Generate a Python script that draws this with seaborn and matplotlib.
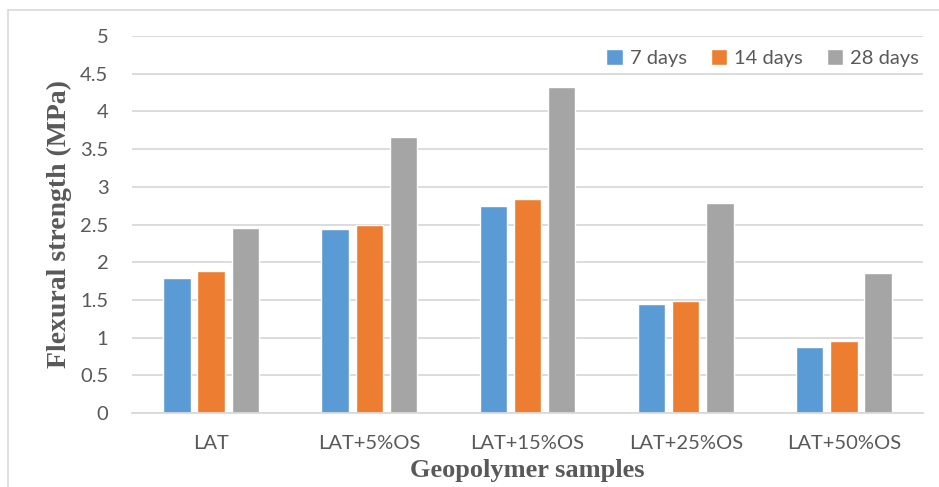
import matplotlib
matplotlib.use("Agg")
import matplotlib.pyplot as plt
import seaborn as sns
import pandas as pd
from matplotlib.lines import Line2D

categories = ["LAT", "LAT+5%OS", "LAT+15%OS", "LAT+25%OS", "LAT+50%OS"]
series_names = ["7 days", "14 days", "28 days"]
days7 = [1.79, 2.44, 2.75, 1.45, 0.88]
days14 = [1.88, 2.49, 2.84, 1.48, 0.96]
days28 = [2.46, 3.66, 4.33, 2.79, 1.86]
yticks = [0, 0.5, 1, 1.5, 2, 2.5, 3, 3.5, 4, 4.5, 5]
colors = ["#5B9BD5", "#ED7D31", "#A5A5A5"]

rows = []
for name, vals in zip(series_names, [days7, days14, days28]):
    for c, v in zip(categories, vals):
        rows.append({"Sample": c, "Age": name, "Strength": v})
df = pd.DataFrame(rows)

sns.set_theme(style="white")
plt.rcParams["font.family"] = ["Lato", "DejaVu Sans"]

fig = plt.figure(figsize=(9.39, 4.87), dpi=100)
ax = fig.add_axes([132/939, 1-413/487, (923-132)/939, (413-36)/487])

sns.barplot(data=df, x="Sample", y="Strength", hue="Age", palette=colors,
            width=0.65, gap=0.2, ax=ax, errorbar=None, saturation=1,
            order=categories, hue_order=series_names)

ax.set_ylim(0, 5)
ax.set_xlim(-0.5, 4.5)
ax.set_yticks(yticks)
ax.set_yticklabels([f"{t:g}" for t in yticks])
ax.yaxis.grid(True, color="#D9D9D9", linewidth=1.3)
ax.set_axisbelow(True)
for s in ["top", "right", "left"]:
    ax.spines[s].set_visible(False)
ax.spines["bottom"].set_color("#D9D9D9")
ax.spines["bottom"].set_linewidth(1.3)
ax.tick_params(axis="both", length=0, labelsize=14.5, colors="#595959")
ax.tick_params(axis="y", pad=17)
ax.tick_params(axis="x", pad=16)

ax.set_xlabel("Geopolymer samples", family="Liberation Serif", fontweight="bold",
              fontsize=19, color="#595959", labelpad=5)
ax.set_ylabel("Flexural strength (MPa)", family="Liberation Serif", fontweight="bold",
              fontsize=20, color="#595959", labelpad=6)

leg = ax.legend(loc="center right", bbox_to_anchor=(1.01, 1 - 22/377), ncol=3, frameon=False,
                fontsize=14.5, handlelength=0.8, handleheight=0.8, handletextpad=0.35,
                columnspacing=1.2, borderaxespad=0.2)
for t in leg.get_texts():
    t.set_color("#595959")

# outer chart border (top and left visible)
fig.add_artist(Line2D([8/939, 8/939], [0, 1-10/487], transform=fig.transFigure,
                      color="#D9D9D9", linewidth=1.2))
fig.add_artist(Line2D([8/939, 1], [1-10/487, 1-10/487], transform=fig.transFigure,
                      color="#D9D9D9", linewidth=1.2))

fig.savefig("out.png", dpi=100)
